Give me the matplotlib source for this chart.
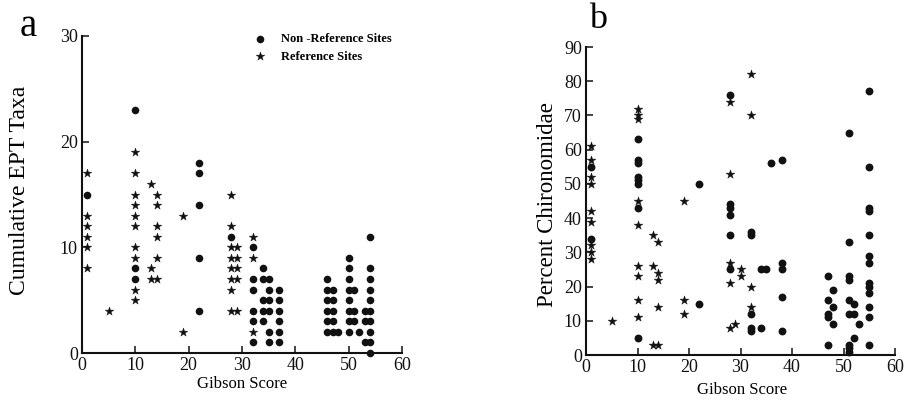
import matplotlib
matplotlib.use("Agg")
import matplotlib.pyplot as plt

plt.rcParams['font.family'] = ['Liberation Serif', 'DejaVu Serif']

# panel a: cumulative EPT taxa vs Gibson score
a_ref_x = [1, 1, 1, 1, 1, 1, 5,
           10, 10, 10, 10, 10, 10, 10, 10, 10, 10,
           13, 13, 13, 14, 14, 14, 14, 14, 14, 19, 19,
           28, 28, 28, 28, 28, 28, 28, 28, 29, 29, 29, 29, 29,
           32, 32, 32]
a_ref_y = [17, 13, 12, 11, 10, 8, 4,
           19, 17, 15, 14, 13, 12, 10, 9, 6, 5,
           16, 8, 7, 15, 14, 12, 11, 9, 7, 13, 2,
           15, 12, 10, 9, 8, 7, 6, 4, 10, 9, 8, 7, 4,
           11, 9, 2]
a_non_x = [1, 10, 10, 10, 22, 22, 22, 22, 22, 28,
           32, 32, 32, 32, 32, 32, 34, 34, 34, 34, 34,
           35, 35, 35, 35, 35, 35, 37, 37, 37, 37, 37, 37,
           46, 46, 46, 46, 46, 46, 47, 47, 47, 47, 47, 48,
           50, 50, 50, 50, 50, 50, 50, 50, 51, 51, 51, 52, 53, 53, 53,
           54, 54, 54, 54, 54, 54, 54, 54, 54, 54]
a_non_y = [15, 23, 8, 7, 18, 17, 14, 9, 4, 11,
           10, 7, 6, 4, 3, 1, 8, 7, 5, 4, 3,
           7, 6, 5, 4, 2, 1, 6, 5, 4, 3, 2, 1,
           7, 6, 5, 4, 3, 2, 6, 5, 4, 3, 2, 2,
           9, 8, 7, 6, 5, 4, 3, 2, 6, 4, 3, 2, 4, 3, 1,
           11, 8, 7, 6, 5, 4, 3, 2, 1, 0]

# panel b: percent Chironomidae vs Gibson score
b_ref_x = [1, 1, 1, 1, 1, 1, 1, 1, 1, 5,
           10, 10, 10, 10, 10, 10, 10, 10, 10,
           13, 13, 13, 14, 14, 14, 14, 14, 19, 19, 19,
           28, 28, 28, 28, 28, 29, 30, 30, 32, 32, 32, 32]
b_ref_y = [61, 57, 52, 50, 42, 39, 32, 30, 28, 10,
           72, 70, 69, 45, 38, 26, 23, 16, 11,
           35, 26, 3, 33, 24, 22, 14, 3, 45, 16, 12,
           74, 53, 27, 21, 8, 9, 25, 23, 82, 70, 20, 14]
b_non_x = [1, 1, 10, 10, 10, 10, 10, 10, 10, 10, 22, 22,
           28, 28, 28, 28, 28, 28, 32, 32, 32, 32, 32,
           34, 34, 35, 36, 38, 38, 38, 38, 38,
           47, 47, 47, 47, 47, 48, 48, 48,
           51, 51, 51, 51, 51, 51, 51, 51, 51, 52, 52, 52, 53,
           55, 55, 55, 55, 55, 55, 55, 55, 55, 55, 55, 55, 55]
b_non_y = [55, 34, 63, 57, 56, 52, 51, 50, 43, 5, 50, 15,
           76, 44, 43, 41, 35, 25, 36, 35, 12, 8, 7,
           25, 8, 25, 56, 57, 27, 25, 17, 7,
           23, 16, 12, 11, 3, 19, 14, 9,
           65, 33, 23, 22, 16, 12, 3, 2, 1, 15, 12, 5, 9,
           77, 55, 43, 42, 35, 29, 27, 21, 20, 18, 14, 11, 3]

x_ticks = [0, 10, 20, 30, 40, 50, 60]
a_y_ticks = [0, 10, 20, 30]
b_y_ticks = [0, 10, 20, 30, 40, 50, 60, 70, 80, 90]

ink = '#111111'

fig = plt.figure(figsize=(9.11, 4.05), dpi=100)
ax1 = fig.add_axes([82 / 911, 52 / 405, 320 / 911, 317 / 405])
ax2 = fig.add_axes([586 / 911, 50 / 405, 309 / 911, 308 / 405])


def style(ax, yticks, ytop):
    ax.set_xlim(0, 60)
    ax.set_ylim(0, ytop)
    ax.set_xticks(x_ticks)
    ax.set_yticks(yticks)
    for s in ['top', 'right']:
        ax.spines[s].set_visible(False)
    for s in ['left', 'bottom']:
        ax.spines[s].set_linewidth(1.5)
        ax.spines[s].set_color(ink)
    ax.tick_params(direction='in', length=5, width=1.1, colors=ink,
                   labelsize=13, pad=3)


style(ax1, a_y_ticks, 30)
style(ax2, b_y_ticks, 90)

ax1.scatter(a_non_x, a_non_y, s=30, marker='o', color=ink, lw=0,
            clip_on=False, label='Non -Reference Sites', zorder=3)
ax1.scatter(a_ref_x, a_ref_y, s=42, marker='*', color=ink, lw=0.3,
            clip_on=False, label='Reference Sites', zorder=3)
ax2.scatter(b_non_x, b_non_y, s=32, marker='o', color=ink, lw=0,
            clip_on=False, zorder=3)
ax2.scatter(b_ref_x, b_ref_y, s=44, marker='*', color=ink, lw=0.3,
            clip_on=False, zorder=3)

ax1.set_xlabel('Gibson Score', fontsize=12)
ax1.set_ylabel('Cumulative EPT Taxa', fontsize=17)
ax1.xaxis.set_label_coords(0.5, -0.072)
ax1.yaxis.set_label_coords(-0.162, 0.514)

ax2.set_xlabel('Gibson Score', fontsize=12)
ax2.set_ylabel('Percent Chironomidae', fontsize=16.5)
ax2.xaxis.set_label_coords(0.505, -0.088)
ax2.yaxis.set_label_coords(-0.09, 0.487)

ax1.legend(loc='upper left', bbox_to_anchor=(0.5, 1.025), frameon=False,
           handletextpad=0.7, labelspacing=0.45, borderaxespad=0,
           prop={'size': 9, 'weight': 'bold'})

fig.text(28 / 911, 1 - 27 / 405, 'a', fontsize=28, ha='center', va='center')
fig.text(598 / 911, 1 - 20 / 405, 'b', fontsize=26, ha='center', va='center')

fig.savefig('out.png', dpi=100)
